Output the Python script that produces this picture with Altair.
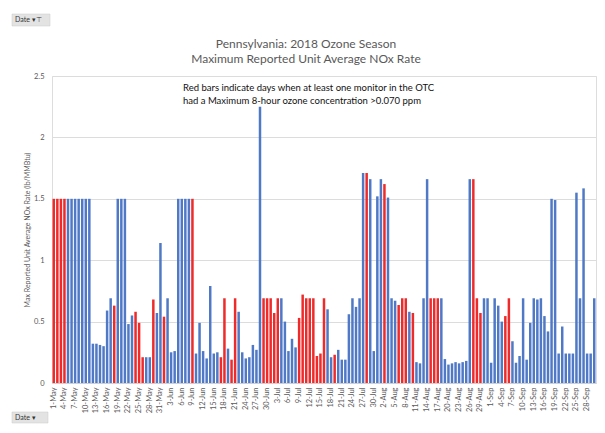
import altair as alt
import pandas as pd

# ---- data -------------------------------------------------------------
dates = pd.date_range("2018-05-01", "2018-09-30", freq="D")
day_labels = [f"{d.day}-{d.strftime('%b')}" for d in dates]
tick_labels = day_labels[::3]

nox_rate = [
    # May 1-31
    1.5, 1.5, 1.5, 1.5, 1.5, 1.5, 1.5, 1.5, 1.5, 1.5, 1.5,
    0.32, 0.32, 0.31, 0.30, 0.59, 0.69, 0.63, 1.5, 1.5, 1.5,
    0.48, 0.55, 0.58, 0.49, 0.21, 0.21, 0.21, 0.68, 0.57, 1.14,
    # June 1-30
    0.54, 0.69, 0.25, 0.26, 1.5, 1.5, 1.5, 1.5, 1.5, 0.24,
    0.49, 0.26, 0.20, 0.79, 0.24, 0.25, 0.21, 0.69, 0.28, 0.19,
    0.69, 0.58, 0.25, 0.20, 0.21, 0.31, 0.27, 2.25, 0.69, 0.69,
    # July 1-31
    0.69, 0.57, 0.69, 0.69, 0.50, 0.26, 0.36, 0.29, 0.53, 0.72,
    0.69, 0.69, 0.69, 0.22, 0.24, 0.69, 0.60, 0.21, 0.23, 0.27,
    0.19, 0.19, 0.56, 0.69, 0.62, 0.69, 1.71, 1.71, 1.66, 0.26, 1.52,
    # August 1-31
    1.66, 1.62, 1.51, 0.69, 0.67, 0.635, 0.69, 0.69, 0.58, 0.57,
    0.17, 0.16, 0.69, 1.66, 0.69, 0.69, 0.69, 0.69, 0.195, 0.15,
    0.16, 0.17, 0.16, 0.17, 0.18, 1.66, 1.66, 0.69, 0.57, 0.69, 0.69,
    # September 1-30
    0.165, 0.69, 0.63, 0.50, 0.545, 0.69, 0.34, 0.165, 0.22, 0.69,
    0.19, 0.49, 0.69, 0.68, 0.69, 0.545, 0.42, 1.50, 1.49, 0.24,
    0.46, 0.24, 0.24, 0.24, 1.55, 0.69, 1.585, 0.24, 0.24, 0.69,
]

red_days = [
    "1-May", "2-May", "3-May", "4-May", "18-May", "24-May", "25-May", "26-May",
    "29-May", "1-Jun", "9-Jun", "17-Jun", "18-Jun", "20-Jun", "21-Jun", "29-Jun",
    "30-Jun", "1-Jul", "2-Jul", "3-Jul", "9-Jul", "10-Jul", "11-Jul", "12-Jul",
    "13-Jul", "14-Jul", "15-Jul", "16-Jul", "19-Jul", "28-Jul", "2-Aug", "6-Aug",
    "7-Aug", "8-Aug", "10-Aug", "15-Aug", "16-Aug", "17-Aug", "27-Aug", "28-Aug",
    "29-Aug", "5-Sep", "6-Sep",
]

y_ticks = [0, 0.5, 1, 1.5, 2, 2.5]

title_lines = ["Pennsylvania: 2018 Ozone Season", "Maximum Reported Unit Average NOx Rate"]
note_lines = [
    "Red bars indicate days when at least one monitor in the OTC",
    "had a Maximum 8-hour ozone concentration >0.070 ppm",
]
y_title = "Max Reported  Unit Average NOx Rate (lb/MMBtu)"

BLUE = "#4F79C6"
RED = "#EE2A2A"
GREY = "#595959"
FONT = "Lato"

df = pd.DataFrame({"date": day_labels, "rate": nox_rate})
df["kind"] = ["red" if d in red_days else "blue" for d in day_labels]

PLOT_W, PLOT_H = 544, 307

bars = alt.Chart(df).mark_bar().encode(
    x=alt.X(
        "date:N",
        sort=day_labels,
        scale=alt.Scale(domain=day_labels, paddingInner=0.3, paddingOuter=0.15),
        axis=alt.Axis(
            values=tick_labels, labelAngle=270, title=None, ticks=False,
            labelFont=FONT, labelFontSize=7.5, labelColor=GREY, labelPadding=4,
            domainColor="#D0D0D0", labelOverlap=False,
        ),
    ),
    y=alt.Y(
        "rate:Q",
        scale=alt.Scale(domain=[0, 2.5], nice=False),
        axis=alt.Axis(
            values=y_ticks, format="~g", title=y_title, domain=False, ticks=False,
            labelFont=FONT, labelFontSize=7.5, labelColor=GREY, labelPadding=8,
            titleFont=FONT, titleFontSize=7, titleFontWeight="normal",
            titleColor=GREY, titlePadding=3, gridColor="#DCDCDC",
        ),
    ),
    color=alt.Color(
        "kind:N", scale=alt.Scale(domain=["blue", "red"], range=[BLUE, RED]), legend=None
    ),
)

one = pd.DataFrame({"a": [0]})


def label(text, x, y, size, color, align="left"):
    return alt.Chart(one).mark_text(
        text=text, align=align, baseline="middle", font=FONT, fontSize=size, color=color
    ).encode(x=alt.value(x), y=alt.value(y))


title1 = label(title_lines[0], 254, -32, 12, GREY, "center")
title2 = label(title_lines[1], 254, -17, 12, GREY, "center")
note1 = label(note_lines[0], 131, 12, 9.5, "#111111")
note2 = label(note_lines[1], 131, 25, 9.5, "#111111")

# pivot-chart field buttons
btn_top = alt.Chart(one).mark_rect(color="#E3E3E3", stroke="#C8C8C8", strokeWidth=0.5).encode(
    x=alt.value(-40), x2=alt.value(-2), y=alt.value(-62), y2=alt.value(-50)
)
btn_top_t = label("Date  \u25BE\u22A4", -37, -56, 7, "#333333")
btn_bot = alt.Chart(one).mark_rect(color="#E3E3E3", stroke="#C8C8C8", strokeWidth=0.5).encode(
    x=alt.value(-40), x2=alt.value(-4), y=alt.value(PLOT_H + 29), y2=alt.value(PLOT_H + 40)
)
btn_bot_t = label("Date  \u25BE", -37, PLOT_H + 34.5, 7, "#333333")

chart = alt.layer(
    bars, title1, title2, note1, note2, btn_top, btn_top_t, btn_bot, btn_bot_t
).properties(
    width=PLOT_W,
    height=PLOT_H,
    autosize=alt.AutoSizeParams(type="none"),
    padding={"left": 44, "top": 68, "right": 1, "bottom": 42},
).configure_view(stroke=None).configure(background="white")

chart.save("out.html", embed_options={"renderer": "svg", "actions": False})
